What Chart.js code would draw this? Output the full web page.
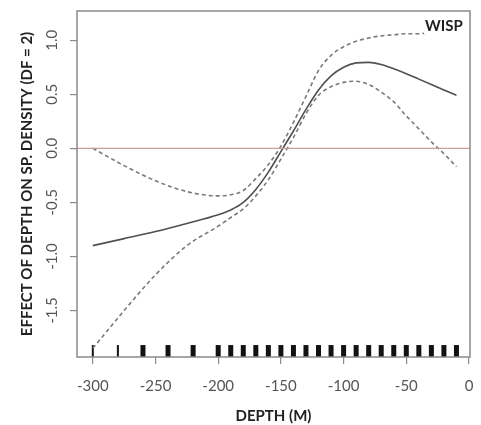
<!DOCTYPE html>
<html>
<head>
<meta charset="utf-8">
<script src="https://cdn.jsdelivr.net/npm/chart.js@4.4.1/dist/chart.umd.min.js"></script>
<style>
  html, body { margin: 0; padding: 0; background: #fff; }
  #wrap { width: 481px; height: 425px; }
</style>
</head>
<body>
<div id="wrap"><canvas id="c" width="481" height="425"></canvas></div>
<script>
// depth grid (m) and the fitted effect with its two bands
const depth = [-300, -275, -250, -225, -200, -190, -180, -170, -160, -150, -140, -130, -120, -110, -100, -90, -80, -70, -60, -50, -40, -30, -20, -10];
const fit   = [-0.90, -0.835, -0.77, -0.695, -0.615, -0.57, -0.50, -0.38, -0.22, -0.03, 0.16, 0.36, 0.54, 0.67, 0.75, 0.79, 0.795, 0.775, 0.735, 0.69, 0.64, 0.59, 0.54, 0.49];
const upper = [0.00, -0.16, -0.30, -0.40, -0.44, -0.43, -0.39, -0.28, -0.15, 0.02, 0.24, 0.48, 0.72, 0.86, 0.94, 0.99, 1.02, 1.04, 1.05, 1.06, 1.06, 1.07, 1.08, 1.08];
const lower = [-1.85, -1.50, -1.17, -0.90, -0.72, -0.64, -0.56, -0.44, -0.29, -0.10, 0.10, 0.32, 0.49, 0.57, 0.61, 0.62, 0.59, 0.52, 0.43, 0.30, 0.18, 0.06, -0.05, -0.17];

// observed depths (rug)
const rugDepths = [-300, -280, -260, -240, -220, -200, -190, -180, -170, -160, -150, -140, -130, -120, -110, -100, -90, -80, -70, -60, -50, -40, -30, -20, -10];

const xTicks = [-300, -250, -200, -150, -100, -50, 0];
const yTicks = [-1.5, -1.0, -0.5, 0.0, 0.5, 1.0];

const X_MIN = -312.6, X_MAX = 0.8;
const Y_MIN = -1.93, Y_MAX = 1.27;

const pts = (ys) => depth.map((d, i) => ({ x: d, y: ys[i] }));

const boxPlugin = {
  id: 'box',
  afterDatasetsDraw(chart) {
    const { ctx, chartArea: a } = chart;
    ctx.save();
    ctx.strokeStyle = '#8a8a8a';
    ctx.lineWidth = 1.5;
    ctx.strokeRect(a.left, a.top, a.right - a.left, a.bottom - a.top);
    ctx.font = 'bold 15px Lato';
    ctx.textAlign = 'left';
    ctx.textBaseline = 'middle';
    const tw = ctx.measureText('WISP').width;
    ctx.fillStyle = '#fff';
    ctx.fillRect(424, 19, tw + 2, 15);
    ctx.fillStyle = '#222';
    ctx.fillText('WISP', 425, 26);
    ctx.restore();
  }
};

new Chart(document.getElementById('c'), {
  type: 'line',
  data: {
    datasets: [
      {
        label: 'zero',
        data: [{ x: X_MIN, y: 0 }, { x: X_MAX, y: 0 }],
        borderColor: '#cf9a9a',
        borderWidth: 1.2,
        pointRadius: 0
      },
      {
        label: 'fit',
        data: pts(fit),
        borderColor: '#505050',
        borderWidth: 1.6,
        pointRadius: 0,
        cubicInterpolationMode: 'monotone'
      },
      {
        label: 'upper',
        data: pts(upper),
        borderColor: '#7a7a7a',
        borderWidth: 1.6,
        borderDash: [4, 3],
        pointRadius: 0,
        cubicInterpolationMode: 'monotone'
      },
      {
        label: 'lower',
        data: pts(lower),
        borderColor: '#7a7a7a',
        borderWidth: 1.6,
        borderDash: [4, 3],
        pointRadius: 0,
        cubicInterpolationMode: 'monotone'
      },
      {
        label: 'rug',
        type: 'scatter',
        data: rugDepths.map(d => ({ x: d, y: Y_MIN + 0.055 })),
        pointStyle: 'line',
        rotation: 90,
        radius: 6,
        borderColor: '#111',
        borderWidth: (c) => (c.raw && c.raw.x < -270 ? 2 : 5),
        showLine: false
      }
    ]
  },
  options: {
    responsive: false,
    devicePixelRatio: 1,
    animation: false,
    layout: { padding: { left: 0, right: 5, top: 8, bottom: 0 } },
    plugins: {
      legend: { display: false },
      tooltip: { enabled: false }
    },
    scales: {
      x: {
        type: 'linear',
        min: X_MIN,
        max: X_MAX,
        afterFit: (s) => { s.height = 68; s.paddingLeft = 0; s.paddingRight = 0; },
        afterBuildTicks: (s) => { s.ticks = xTicks.map(v => ({ value: v })); },
        grid: { drawOnChartArea: false, drawTicks: true, tickLength: 7, color: '#8a8a8a', lineWidth: 1.2 },
        border: { display: false },
        ticks: {
          color: '#555',
          font: { family: 'Lato', size: 15 },
          padding: 13,
          maxRotation: 0,
          callback: (v) => String(v)
        },
        title: {
          display: true,
          text: 'DEPTH (M)',
          color: '#222',
          font: { family: 'Lato', size: 15, weight: 'bold' },
          padding: { top: 0, bottom: 0 }
        }
      },
      y: {
        type: 'linear',
        min: Y_MIN,
        max: Y_MAX,
        afterFit: (s) => { s.width = 77; s.paddingTop = 0; s.paddingBottom = 0; },
        afterBuildTicks: (s) => { s.ticks = yTicks.map(v => ({ value: v })); },
        grid: { drawOnChartArea: false, drawTicks: true, tickLength: 7, color: '#8a8a8a', lineWidth: 1.2 },
        border: { display: false },
        ticks: {
          color: '#555',
          font: { family: 'Lato', size: 15 },
          padding: 5,
          minRotation: 90,
          maxRotation: 90,
          crossAlign: 'center',
          callback: (v) => v.toFixed(1)
        },
        title: {
          display: true,
          text: 'EFFECT OF DEPTH ON SP. DENSITY (DF = 2)',
          color: '#222',
          font: { family: 'Lato', size: 15, weight: 'bold' },
          padding: { top: 18, bottom: 0 }
        }
      }
    }
  },
  plugins: [boxPlugin]
});
</script>
</body>
</html>
